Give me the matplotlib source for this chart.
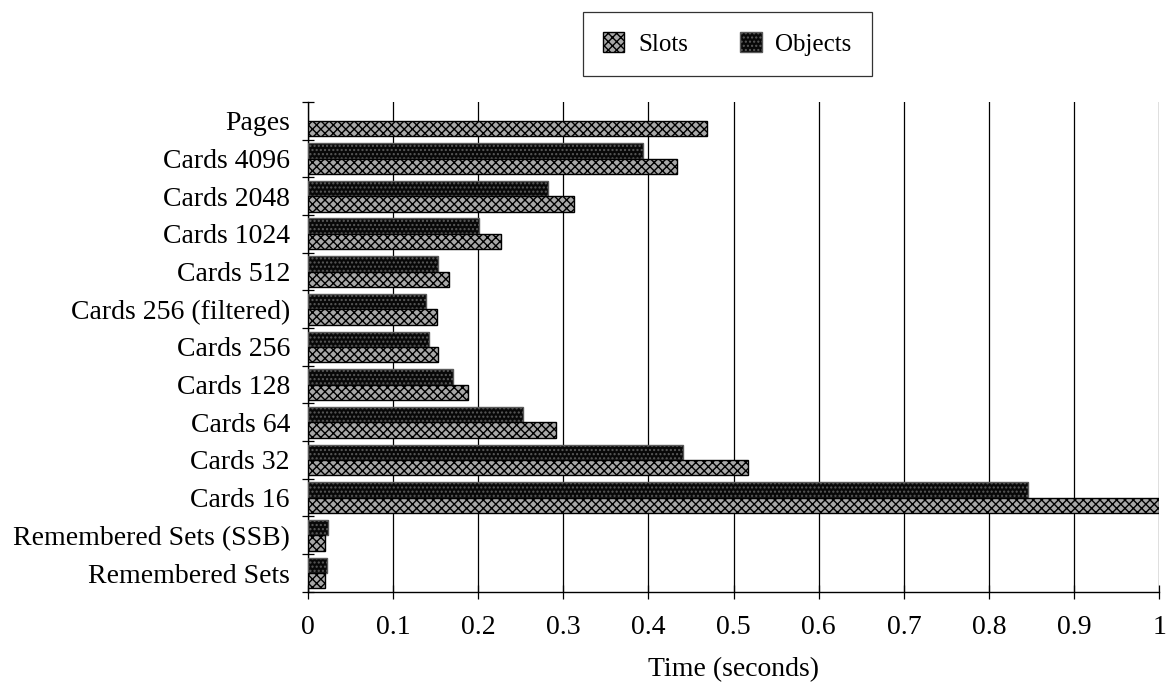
import matplotlib
matplotlib.use("Agg")
import matplotlib.pyplot as plt
import numpy as np
from matplotlib.patches import Patch

plt.rcParams['font.family'] = ['Liberation Serif', 'DejaVu Serif']
plt.rcParams['hatch.linewidth'] = 1.0

categories = ["Pages", "Cards 4096", "Cards 2048", "Cards 1024", "Cards 512",
              "Cards 256 (filtered)", "Cards 256", "Cards 128", "Cards 64",
              "Cards 32", "Cards 16", "Remembered Sets (SSB)", "Remembered Sets"]
slots = [0.469, 0.433, 0.313, 0.227, 0.166, 0.151, 0.153, 0.188, 0.291,
         0.517, 1.0, 0.020, 0.020]
objects = [None, 0.394, 0.282, 0.201, 0.153, 0.139, 0.142, 0.170, 0.253,
           0.441, 0.846, 0.023, 0.022]
xticks = [0, 0.1, 0.2, 0.3, 0.4, 0.5, 0.6, 0.7, 0.8, 0.9, 1.0]
xticklabels = ["0", "0.1", "0.2", "0.3", "0.4", "0.5", "0.6", "0.7", "0.8", "0.9", "1"]

FS = 20

fig = plt.figure(figsize=(11.71, 6.85), dpi=100)
ax = fig.add_axes([0.263, 0.136, 0.727, 0.715])

y = np.arange(len(categories))
h = 0.41
slot_style = dict(facecolor='#a8a8a8', edgecolor='black', hatch='xxxx', linewidth=1.0)
obj_style = dict(facecolor='#080808', edgecolor='#5a5a5a', hatch='....', linewidth=1.0)

obj_y = [yy for yy, v in zip(y, objects) if v is not None]
obj_v = [v for v in objects if v is not None]
ax.barh(np.array(obj_y) - h / 2, obj_v, height=h, zorder=3, **obj_style)
ax.barh(y + h / 2, slots, height=h, zorder=3, **slot_style)

ax.set_ylim(len(categories) - 0.5, -0.5)
ax.set_xlim(0, 1.0)

ax.set_yticks(y)
ax.set_yticklabels(categories, fontsize=FS)
ax.set_yticks(np.arange(-0.5, len(categories) + 0.5, 1), minor=True)
ax.tick_params(axis='y', which='major', length=0, pad=13)
ax.tick_params(axis='y', which='minor', length=9, direction='inout', width=0.9)

ax.set_xticks(xticks)
ax.set_xticklabels(xticklabels, fontsize=FS)
ax.tick_params(axis='x', which='major', length=10, direction='inout', width=0.9, pad=12)

ax.grid(axis='x', color='black', linewidth=0.9, zorder=1)
ax.set_axisbelow(True)
for s in ['top', 'right']:
    ax.spines[s].set_visible(False)
ax.spines['left'].set_linewidth(1.0)
ax.spines['bottom'].set_linewidth(1.0)

ax.set_xlabel("Time (seconds)", fontsize=FS, labelpad=12)

handles = [Patch(label='Slots', **slot_style), Patch(label='Objects', **obj_style)]
leg = fig.legend(handles=handles, loc='center', bbox_to_anchor=(0.621, 0.936), ncol=2,
                 fontsize=18, frameon=True, fancybox=False, edgecolor='black',
                 handlelength=0.85, handleheight=0.85, columnspacing=2.1,
                 handletextpad=0.55, borderpad=0.8, borderaxespad=0)
leg.get_frame().set_linewidth(0.9)

fig.savefig("out.png", dpi=100)
